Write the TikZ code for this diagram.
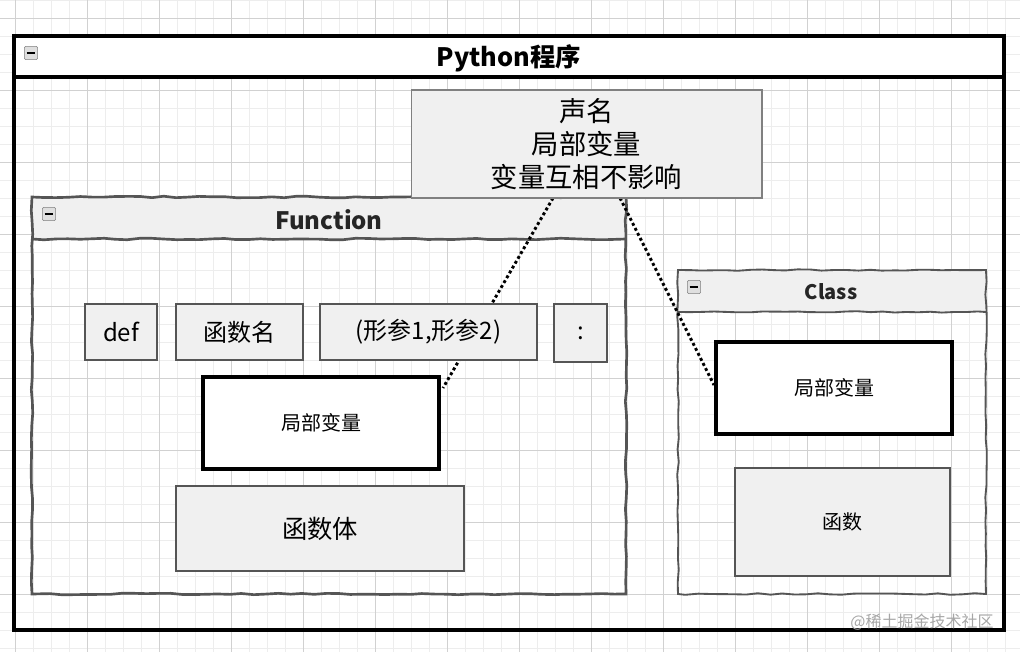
\documentclass[tikz,border=0pt]{standalone}
\usepackage{fontspec}
\setmainfont{Noto Sans CJK SC}
\usetikzlibrary{positioning,decorations.pathmorphing}
\definecolor{boxgray}{HTML}{F0F0F0}
\definecolor{edgegray}{HTML}{555555}
\tikzset{
  sketch/.style={decorate, decoration={random steps, segment length=9pt, amplitude=0.6pt}},
  box/.style={draw=edgegray, line width=1.6pt, fill=boxgray, inner sep=0pt, font=\fontsize{18}{20}\selectfont},
  local/.style={draw=black, line width=3pt, fill=white, inner sep=0pt, font=\fontsize{15}{17}\selectfont},
  minus/.style={draw=gray, fill=gray!25, rounded corners=1pt, minimum size=10pt, inner sep=0pt},
}
\begin{document}
\begin{tikzpicture}[x=0.75pt, y=-0.75pt]
    \useasboundingbox (0,0) rectangle (1020,652);
    % Grid background
    \foreach \g in {0,18,...,1020} \draw[black!7, line width=0.5pt] (\g+15,0) -- (\g+15,652);
    \foreach \g in {0,18,...,652} \draw[black!7, line width=0.5pt] (0,\g) -- (1020,\g);
    \foreach \g in {-57,15,...,1020} \draw[black!18, line width=0.6pt] (\g,0) -- (\g,652);
    \foreach \g in {18,90,...,652} \draw[black!18, line width=0.6pt] (0,\g) -- (1020,\g);

    % Outer program frame
    \fill[white] (14,36) rectangle (1004,77);
    \draw[line width=2.4pt] (14,36) rectangle (1004,630);
    \draw[line width=2.4pt] (14,77) -- (1004,77);
    \node[minus] (m0) at (31,53) {};
    \draw[line width=1pt] (m0.west) ++(2pt,0) -- ++(6pt,0);
    \node[font=\fontsize{19}{20}\selectfont\bfseries] (title) at (509,58) {Python程序};

    % Function container
    \fill[boxgray] (32,197) rectangle (626,239);
    \draw[sketch, edgegray, line width=2pt] (32,197) -- (626,197) -- (626,594) -- (32,594) -- cycle;
    \draw[sketch, edgegray, line width=2pt] (32,239) -- (626,239);
    \node[minus] (m1) at (49,214) {};
    \draw[line width=1pt] (m1.west) ++(2pt,0) -- ++(6pt,0);
    \node[font=\fontsize{18}{20}\selectfont\bfseries, text=black!85] (ftitle) at (329,220) {Function};

    % Class container
    \fill[boxgray] (678,270) rectangle (986,312);
    \draw[sketch, edgegray, line width=1.4pt] (678,270) -- (986,270) -- (986,594) -- (678,594) -- cycle;
    \draw[sketch, edgegray, line width=1.4pt] (678,312) -- (986,312);
    \node[minus] (m2) at (694,287) {};
    \draw[line width=1pt] (m2.west) ++(2pt,0) -- ++(6pt,0);
    \node[font=\fontsize{15}{17}\selectfont\bfseries, text=black!85] (ctitle) at (831,292) {Class};

    % Links from the note
    \coordinate (na) at (553,198);
    \coordinate (nb) at (620,198);
    \coordinate (fa) at (443,388);
    \coordinate (ca) at (714,385);
    \draw[line width=2.2pt, dotted] (na) -- (fa);
    \draw[line width=2.2pt, dotted] (nb) -- (ca);

    \node[box, minimum width=54pt, minimum height=42pt] (def) at (121,332) {def};
    \node[box, minimum width=95pt, minimum height=42pt] (fname) at (239.5,332) {函数名};
    \node[box, minimum width=163pt, minimum height=42pt] (params) at (428.5,332) {(形参1,形参2)};
    \node[box, minimum width=40pt, minimum height=43pt] (colon) at (580.5,333) {:};
    \node[local, minimum width=177pt, minimum height=69pt] (flocal) at (321,423) {局部变量};
    \node[box, minimum width=216pt, minimum height=64pt, font=\fontsize{19}{20}\selectfont] (fbody) at (320,528.5) {函数体};

    \node[local, minimum width=177pt, minimum height=69pt] (clocal) at (834,388) {局部变量};
    \node[box, line width=1.2pt, minimum width=161pt, minimum height=81pt, font=\fontsize{15}{17}\selectfont] (cfunc) at (842.5,522) {函数};

    % Note
    \node[draw=gray, line width=1pt, fill=boxgray, minimum width=263pt, minimum height=81pt, align=center,
          font=\fontsize{20.5}{25}\selectfont] (note) at (586.5,144) {声名\\局部变量\\变量互相不影响};

    \node[text=black!35, font=\fontsize{12}{14}\selectfont] (mark) at (922,622) {@稀土掘金技术社区};
\end{tikzpicture}
\end{document}
